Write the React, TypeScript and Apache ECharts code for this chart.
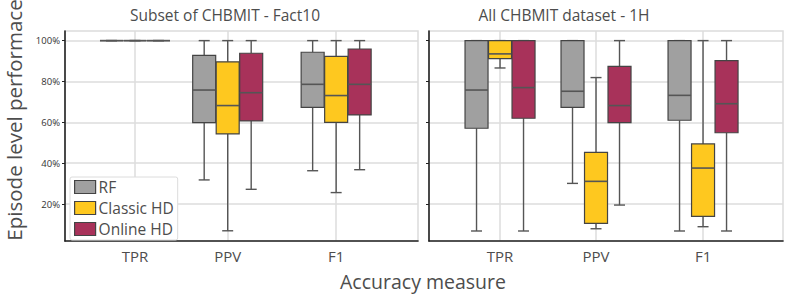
import React, { useEffect, useRef } from "react";
import * as echarts from "echarts";

// ---- Data (fractions; each entry is [min, Q1, median, Q3, max]) ----
const categories = ["TPR", "PPV", "F1"];
const methods = ["RF", "Classic HD", "Online HD"];
const panelTitles = ["Subset of CHBMIT - Fact10", "All CHBMIT dataset - 1H"];
const yTickValues = [0.2, 0.4, 0.6, 0.8, 1.0];

const subsetRF = [
  [1, 1, 1, 1, 1],
  [0.318, 0.598, 0.758, 0.928, 1],
  [0.363, 0.673, 0.786, 0.943, 1],
];
const subsetClassic = [
  [1, 1, 1, 1, 1],
  [0.069, 0.543, 0.682, 0.896, 1],
  [0.256, 0.6, 0.731, 0.923, 1],
];
const subsetOnline = [
  [1, 1, 1, 1, 1],
  [0.272, 0.607, 0.745, 0.938, 1],
  [0.368, 0.636, 0.786, 0.959, 1],
];
const allRF = [
  [0.068, 0.571, 0.758, 1, 1],
  [0.301, 0.673, 0.752, 1, 1],
  [0.068, 0.61, 0.732, 1, 1],
];
const allClassic = [
  [0.866, 0.912, 0.935, 1, 1],
  [0.079, 0.105, 0.311, 0.453, 0.819],
  [0.089, 0.14, 0.376, 0.494, 1],
];
const allOnline = [
  [0.068, 0.62, 0.77, 1, 1],
  [0.195, 0.598, 0.682, 0.874, 1],
  [0.068, 0.549, 0.691, 0.902, 1],
];

// ---- layout / style constants ----
const catPosLeft = [1, 2, 3.17];
const catPosRight = [1, 2, 3.115];
const colors = ["#a0a0a0", "#fec81f", "#a8325a"];
const FONT = "Open Sans";
const TEXT = "#4d4d4d";

function makeSeries(name: string, vals: number[][], pos: number[], panel: number, mIdx: number) {
  const offset = (mIdx - 1) * 23.5;
  const w = 23;
  const cap = 11;
  return {
    type: "custom",
    name,
    xAxisIndex: panel,
    yAxisIndex: panel,
    itemStyle: { color: colors[mIdx], borderColor: "#444", borderWidth: 1.2 },
    data: vals.map((v, i) => [pos[i], ...v]),
    renderItem: (params: any, api: any) => {
      const x = api.value(0);
      const px = api.coord([x, api.value(1)]);
      const cx = px[0] + offset;
      const yMin = px[1];
      const yQ1 = api.coord([x, api.value(2)])[1];
      const yMed = api.coord([x, api.value(3)])[1];
      const yQ3 = api.coord([x, api.value(4)])[1];
      const yMax = api.coord([x, api.value(5)])[1];
      const ls = { stroke: "#555", lineWidth: 1.4 };
      return {
        type: "group",
        children: [
          { type: "line", shape: { x1: cx, y1: yMin, x2: cx, y2: yQ1 }, style: ls },
          { type: "line", shape: { x1: cx, y1: yQ3, x2: cx, y2: yMax }, style: ls },
          { type: "line", shape: { x1: cx - cap / 2, y1: yMin, x2: cx + cap / 2, y2: yMin }, style: ls },
          { type: "line", shape: { x1: cx - cap / 2, y1: yMax, x2: cx + cap / 2, y2: yMax }, style: ls },
          {
            type: "rect",
            shape: { x: cx - w / 2, y: yQ3, width: w, height: yQ1 - yQ3 },
            style: { fill: colors[mIdx], stroke: "#444", lineWidth: 1.2 },
          },
          { type: "line", shape: { x1: cx - w / 2, y1: yMed, x2: cx + w / 2, y2: yMed }, style: { stroke: "#555", lineWidth: 1.6 } },
        ],
      };
    },
  };
}

export default function App() {
  const ref = useRef<HTMLDivElement>(null);
  useEffect(() => {
    if (!ref.current) return;
    const chart = echarts.init(ref.current, null, { renderer: "svg" });
    const grids = [
      { left: 65, width: 353, top: 31, height: 210 },
      { left: 429, width: 354, top: 31, height: 210 },
    ];
    const xAxes = [0, 1].map((p) => {
      const pos = p === 0 ? catPosLeft : catPosRight;
      return {
        type: "value",
        gridIndex: p,
        min: p === 0 ? 0.245 : 0.26,
        max: p === 0 ? 4.053 : 3.948,
        axisLine: { show: true, onZero: false, lineStyle: { color: "#222", width: 1.6 } },
        axisTick: { show: false, customValues: pos },
        axisLabel: {
          customValues: pos,
          formatter: (v: number) => {
            let best = 0;
            pos.forEach((q, i) => {
              if (Math.abs(q - v) < Math.abs(pos[best] - v)) best = i;
            });
            return categories[best];
          },
          color: TEXT,
          fontFamily: FONT,
          fontSize: 15,
          margin: 7,
        },
        splitLine: { show: true, lineStyle: { color: "#dcdcdc", width: 1.5 } },
      };
    });
    const yAxes = [0, 1].map((p) => ({
      type: "value",
      gridIndex: p,
      min: 0.019,
      max: 1.047,
      axisLine: { show: true, onZero: false, lineStyle: { color: "#222", width: 1.6 } },
      axisTick: { show: true, customValues: yTickValues, length: 3, lineStyle: { color: "#222" } },
      axisLabel: {
        show: p === 0,
        customValues: yTickValues,
        formatter: (v: number) => Math.round(v * 100) + "%",
        color: "#333",
        fontFamily: FONT,
        fontSize: 9.5,
        margin: 5,
      },
      splitLine: { show: true, lineStyle: { color: "#dcdcdc", width: 1.5 } },
    }));
    const series: any[] = [];
    const sets = [
      [subsetRF, subsetClassic, subsetOnline],
      [allRF, allClassic, allOnline],
    ];
    sets.forEach((group, p) => {
      group.forEach((vals, m) => {
        series.push(makeSeries(methods[m], vals, p === 0 ? catPosLeft : catPosRight, p, m));
      });
    });
    chart.setOption({
      animation: false,
      grid: grids.map((g) => ({ ...g, show: true, borderColor: "#dcdcdc", borderWidth: 1.5, backgroundColor: "transparent" })),
      xAxis: xAxes,
      yAxis: yAxes,
      legend: {
        data: methods,
        orient: "vertical",
        left: 70,
        top: 177,
        backgroundColor: "#ffffff",
        borderColor: "#dcdcdc",
        borderWidth: 1,
        borderRadius: 2,
        padding: [2, 4, 3, 4],
        itemWidth: 21,
        itemHeight: 13,
        itemGap: 5,
        icon: "rect",
        itemStyle: { borderColor: "#444", borderWidth: 1.2 },
        textStyle: { color: TEXT, fontFamily: FONT, fontSize: 15.5, padding: [0, 0, 0, -2] },
      },
      graphic: [
        {
          type: "text",
          x: 225,
          y: 15,
          style: { text: panelTitles[0], fill: TEXT, font: `15.5px "${FONT}"`, textAlign: "center", textVerticalAlign: "middle" },
        },
        {
          type: "text",
          x: 564,
          y: 15,
          style: { text: panelTitles[1], fill: TEXT, font: `15.5px "${FONT}"`, textAlign: "center", textVerticalAlign: "middle" },
        },
        {
          type: "text",
          x: 14,
          y: 120,
          rotation: Math.PI / 2,
          style: { text: "Episode level performace", fill: TEXT, font: `20.5px "${FONT}"`, textAlign: "center", textVerticalAlign: "middle" },
        },
        {
          type: "text",
          x: 423,
          y: 281,
          style: { text: "Accuracy measure", fill: TEXT, font: `19.5px "${FONT}"`, textAlign: "center", textVerticalAlign: "middle" },
        },
      ],
      series,
    });
    return () => chart.dispose();
  }, []);
  return <div ref={ref} style={{ width: 789, height: 294, position: "absolute", left: 0, top: 0 }} />;
}
